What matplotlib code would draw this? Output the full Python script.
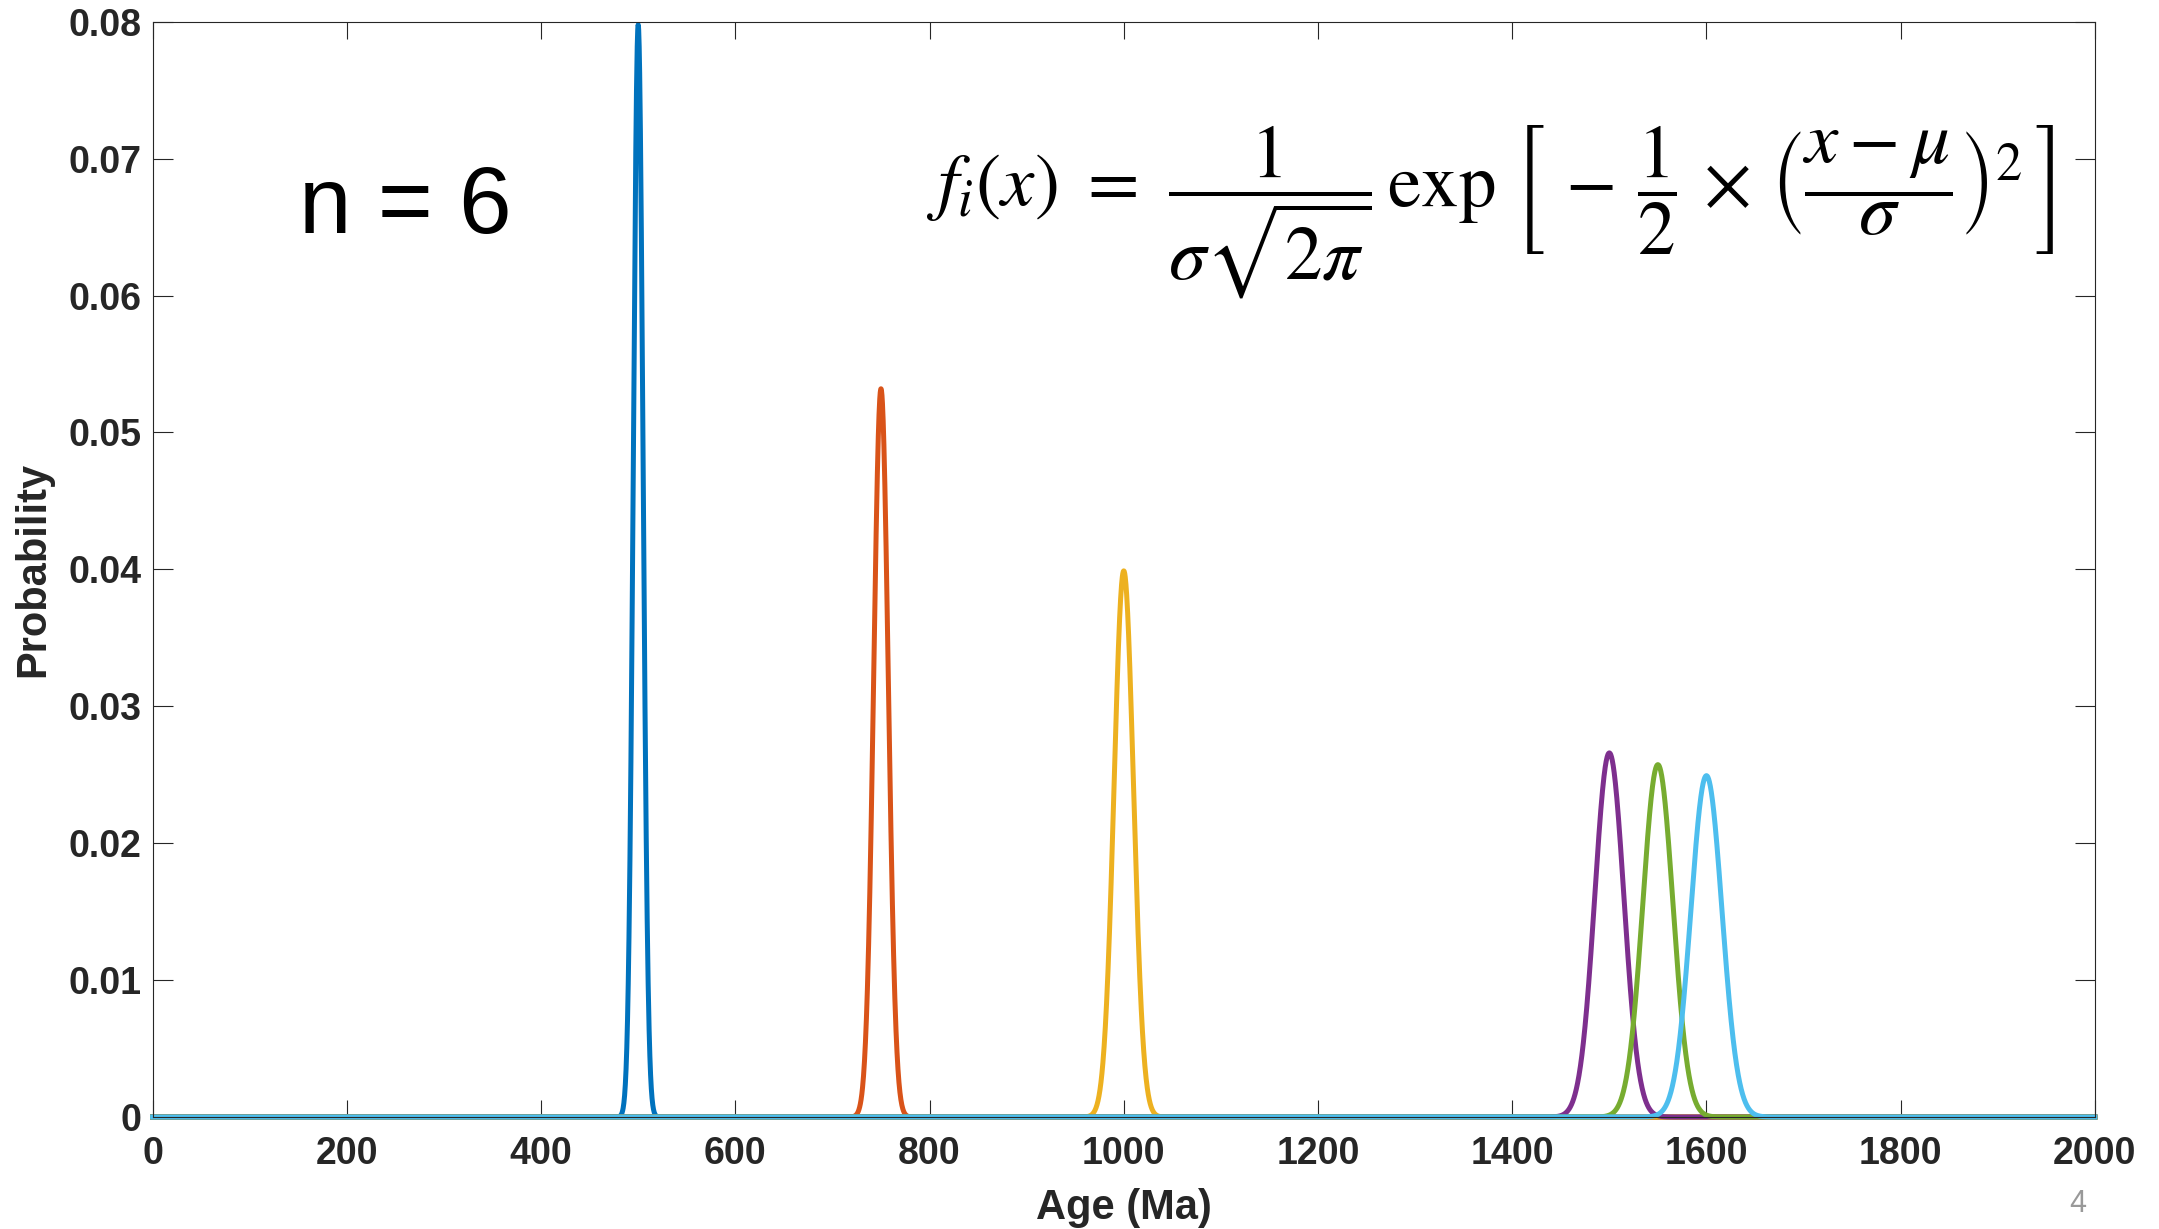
import numpy as np
import matplotlib
matplotlib.use("Agg")
import matplotlib.pyplot as plt

# peak centres (Ma) and widths of the six age components
mu = [500, 750, 1000, 1500, 1550, 1600]
sigma = [5, 7.5, 10, 15, 15.5, 16]
colors = ["#0072BD", "#D95319", "#EDB120", "#7E2F8E", "#77AC30", "#4DBEEE"]

xticks = [0, 200, 400, 600, 800, 1000, 1200, 1400, 1600, 1800, 2000]
yticks = [0, 0.01, 0.02, 0.03, 0.04, 0.05, 0.06, 0.07, 0.08]

plt.rcParams["font.family"] = ["Liberation Sans", "DejaVu Sans"]
plt.rcParams["mathtext.fontset"] = "stix"

fig = plt.figure(figsize=(21.59, 12.29), dpi=100)
ax = fig.add_axes([0.0707, 0.0911, 0.8996, 0.8912])

x = np.linspace(0, 2000, 8001)
for m, s, c in zip(mu, sigma, colors):
    y = np.exp(-0.5 * ((x - m) / s) ** 2) / (s * np.sqrt(2 * np.pi))
    ax.plot(x, y, color=c, lw=3.6, solid_joinstyle="round", clip_on=False)

ax.set_xlim(0, 2000)
ax.set_ylim(0, 0.08)
ax.set_xticks(xticks)
ax.set_yticks(yticks)
ax.set_yticklabels(["0" if v == 0 else f"{v:.2f}" for v in yticks])

for sp in ax.spines.values():
    sp.set_color("#262626")
    sp.set_linewidth(0.8)
ax.tick_params(axis="both", direction="in", colors="#262626", width=0.8,
               top=True, right=True, labelsize=27)
ax.tick_params(axis="x", length=12, pad=14)
ax.tick_params(axis="y", length=14.5, pad=8)
for lab in ax.get_xticklabels() + ax.get_yticklabels():
    lab.set_fontweight("bold")

ax.set_xlabel("Age (Ma)", fontsize=30, fontweight="bold", color="#262626")
ax.set_ylabel("Probability", fontsize=30, fontweight="bold", color="#262626")
ax.xaxis.set_label_coords(0.5, -0.065)
ax.yaxis.set_label_coords(-0.051, 0.5)

fig.text(299 / 2159, 1 - 233 / 1229, "n = 6", fontsize=68, color="black",
         ha="left", va="baseline")
formula = (r"$f_i(x)\ =\ \dfrac{1}{\sigma\sqrt{2\pi}}\,\exp\,\left[\,-\,\dfrac{1}{2}\,\times\,"
           r"\left(\dfrac{x-\mu}{\sigma}\right)^{2}\,\right]$")
fig.text(1490 / 2159, 1 - 212 / 1229, formula, fontsize=54,
         ha="center", va="center")

fig.text(2078 / 2159, 1 - 1204 / 1229, "4", fontsize=22, color="#999999",
         ha="center", va="center")

fig.savefig("out.png", dpi=100)
